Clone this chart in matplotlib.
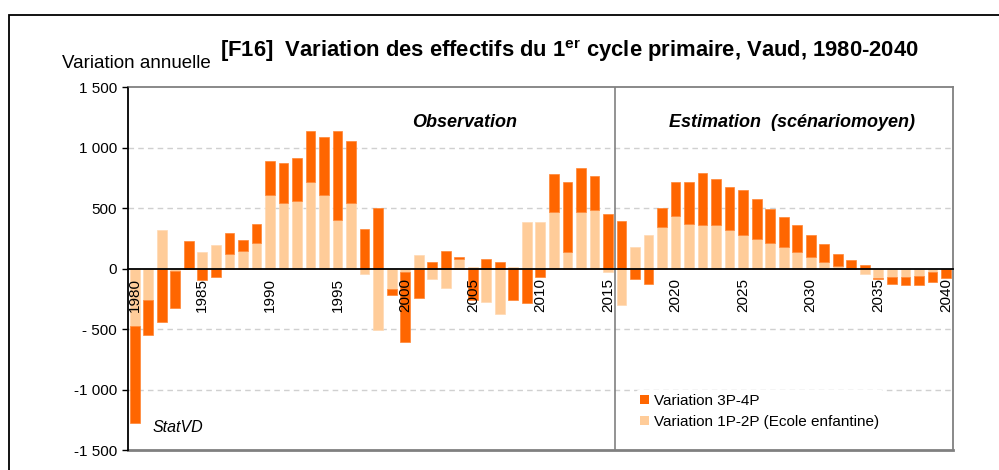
import matplotlib.pyplot as plt
import numpy as np
from matplotlib.patches import Rectangle, Patch

plt.rcParams['font.family'] = ['Liberation Sans', 'DejaVu Sans']

# years 1980..2040
years = list(range(1980, 2041))

# Variation 1P-2P (Ecole enfantine) - light bars
var_1p2p = [-478, -257, 323, -20, 0, 138, 193, 124, 149, 215,
            613, 547, 561, 718, 613, 403, 547, -44, -505, -166,
            -30, 110, -83, -163, 83, 15, -279, -376, 15, 387,
            387, 467, 138, 467, 481, -30, -298, 177, 282, 348,
            439, 373, 362, 362, 320, 282, 243, 215, 177, 138,
            97, 58, 19, 0, -44, -75, -72, -72, -58, -30,
            -5]

# Variation 3P-4P - dark bars
var_3p4p = [-801, -290, -442, -303, 229, -91, -72, 172, 91, 158,
            276, 329, 353, 420, 472, 735, 511, 331, 505, -50,
            -580, -243, 58, 149, 16, -257, 83, 58, -257, -282,
            -72, 315, 577, 367, 287, 453, 398, -86, -124, 157,
            276, 342, 433, 381, 357, 367, 329, 277, 251, 224,
            185, 144, 105, 75, 33, -10, -53, -67, -81, -81,
            -72]

yticks = [-1500, -1000, -500, 0, 500, 1000, 1500]
ytick_labels = ['-1 500', '-1 000', '- 500', '0', '500', '1 000', '1 500']
xticks = list(range(1980, 2041, 5))

DARK = '#FF6600'
LIGHT = '#FFCC99'

fig = plt.figure(figsize=(9.99, 4.70), dpi=100)
ax = fig.add_axes([128 / 999, 1 - 450 / 470, (952.7 - 128) / 999, (450 - 87.3) / 470])

x = np.array(years)
light = np.array(var_1p2p, dtype=float)
dark = np.array(var_3p4p, dtype=float)

# Excel-style stacking: positives and negatives stacked separately
dark_bottom = np.where(np.sign(dark) == np.sign(light), light, 0)

w = 0.72
ax.bar(x, light, width=w, color=LIGHT, edgecolor='#FFD9B3', linewidth=0.5, zorder=2)
ax.bar(x, dark, bottom=dark_bottom, width=w, color=DARK, edgecolor='#FF8533', linewidth=0.5, zorder=2)

ax.set_xlim(1979.5, 2040.5)
ax.set_ylim(-1500, 1500)

# gridlines
for g in [-1000, -500, 500, 1000]:
    ax.axhline(g, color='#D0D0D0', lw=1, ls=(0, (4, 3)), zorder=0)

# divider observation / estimation
ax.axvline(2015.5, color='#808080', lw=1.2, zorder=3)

# spines
ax.spines['bottom'].set_position(('data', 0))
ax.spines['bottom'].set_color('black')
ax.spines['bottom'].set_linewidth(1.3)
ax.spines['left'].set_color('black')
ax.spines['left'].set_linewidth(1.3)
for s in ['top', 'right']:
    ax.spines[s].set_color('#808080')
    ax.spines[s].set_linewidth(1.3)
for s in ax.spines.values():
    s.set_zorder(4)
ax.axhline(-1500, color='#808080', lw=2, clip_on=False, zorder=4)

ax.set_yticks(yticks)
ax.set_yticklabels(ytick_labels, fontsize=11)
ax.tick_params(axis='y', length=4, width=1, direction='out', pad=4)

ax.set_xticks(xticks)
ax.set_xticklabels([str(t) for t in xticks], rotation=90, fontsize=11)
ax.tick_params(axis='x', length=0, pad=7)
ax.xaxis.set_zorder(5)
ax.yaxis.set_zorder(5)

ax.text(2004.4, 1175, 'Observation', fontsize=13, fontweight='bold',
        fontstyle='italic', ha='center', va='baseline')
ax.text(2028.6, 1175, 'Estimation  (scénariomoyen)', fontsize=13, fontweight='bold',
        fontstyle='italic', ha='center', va='baseline')
ax.text(1981.3, -1310, 'StatVD', fontsize=11.5, fontstyle='italic', ha='left', va='center')

handles = [Patch(facecolor=DARK, edgecolor='none', label='Variation 3P-4P'),
           Patch(facecolor=LIGHT, edgecolor='none', label='Variation 1P-2P (Ecole enfantine)')]
leg = fig.legend(handles=handles, loc='upper left', bbox_to_anchor=(628 / 999, 1 - 382 / 470),
                 fontsize=11, frameon=True, framealpha=1, edgecolor='white',
                 handlelength=0.55, handleheight=0.55, handletextpad=0.35,
                 labelspacing=0.45, borderpad=0.3)
leg.get_frame().set_linewidth(0)
leg.set_zorder(5)

fig.text(62 / 999, 1 - 68.3 / 470, 'Variation annuelle', fontsize=13.5, ha='left', va='baseline')
fig.text(569.5 / 999, 1 - 56.7 / 470,
         r'[F16]  Variation des effectifs du 1$^{\mathregular{er}}$ cycle primaire, Vaud, 1980-2040',
         fontsize=15.8, fontweight='bold', ha='center', va='baseline')

# outer frame
fig.add_artist(Rectangle((8.5 / 999, -0.1), 1.2, 1 - 15 / 470 + 0.1, transform=fig.transFigure,
                         fill=False, edgecolor='black', lw=1.3))

fig.savefig('out.png', dpi=100)
